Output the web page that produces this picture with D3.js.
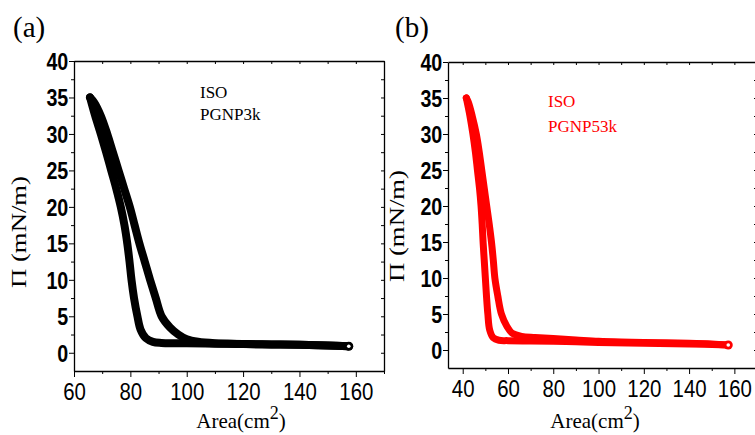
<!DOCTYPE html>
<html>
<head>
<meta charset="utf-8">
<script src="https://cdn.jsdelivr.net/npm/d3@7"></script>
<style>
  body { margin: 0; background: #fff; }
</style>
</head>
<body>
<svg id="chart" width="755" height="435"></svg>
<script>
// shared pressure ticks
const piTicks = [0, 5, 10, 15, 20, 25, 30, 35, 40];
const piMinor = [2.5, 7.5, 12.5, 17.5, 22.5, 27.5, 32.5, 37.5];

// panel (a) : PGNP3k
const areaTicksA = [60, 80, 100, 120, 140, 160];
const areaMinorA = [70, 90, 110, 130, 150, 170];
const compressA = [
  [157.5, 0.9], [150, 1.0], [140, 1.1], [130, 1.15], [120, 1.2], [110, 1.3],
  [104, 1.5], [100, 1.85], [97, 2.5], [94, 3.5], [91.1, 5], [89, 7.5],
  [87, 10], [85.1, 12.5], [83.2, 15], [81.5, 17.5], [79.8, 20], [77.8, 22.5],
  [75.8, 25], [73.8, 27.5], [71.8, 30], [69.5, 32.5], [67.2, 34.3], [65.7, 35]
];
const expandA = [
  [65.7, 35], [67.5, 32.5], [69.5, 30], [71.4, 27.5], [73.2, 25], [75, 22.5],
  [76.6, 20], [77.9, 17.5], [78.9, 15], [79.7, 12.5], [80.4, 10], [81.3, 7.5],
  [82.5, 5], [83.6, 3.2], [85.5, 2], [88, 1.5], [91, 1.35], [95, 1.3],
  [100, 1.3], [110, 1.25], [120, 1.2], [130, 1.15], [140, 1.1], [150, 1.0], [157.5, 0.9]
];
const labelsA = ["ISO", "PGNP3k"];

// panel (b) : PGNP53k
const areaTicksB = [40, 60, 80, 100, 120, 140, 160];
const areaMinorB = [50, 70, 90, 110, 130, 150];
const compressB = [
  [157.3, 0.7], [150, 0.85], [140, 0.95], [130, 1.0], [120, 1.05], [110, 1.1],
  [100, 1.2], [90, 1.4], [80, 1.6], [72, 1.75], [66, 1.9], [62, 2.3],
  [59.5, 3.3], [57.1, 5], [55.5, 7.5], [54.2, 10], [53.5, 12.5], [52.7, 15],
  [51.7, 17.5], [50.6, 20], [49.5, 22.5], [48.4, 25], [47.3, 27.5], [46, 30],
  [44.2, 32.5], [42.5, 34.4], [41.6, 35]
];
const expandB = [
  [41.6, 35], [43.2, 32.5], [44.5, 30], [45.6, 27.5], [46.5, 25], [47.4, 22.5],
  [48.1, 20], [48.6, 17.5], [49, 15], [49.5, 12.5], [50, 10], [50.5, 7.5],
  [51.1, 5], [51.9, 2.8], [53.5, 1.7], [56, 1.35], [60, 1.3], [70, 1.25],
  [80, 1.2], [90, 1.15], [100, 1.05], [120, 0.95], [140, 0.85], [157.3, 0.7]
];
const labelsB = ["ISO", "PGNP53k"];

const SERIF = '"Liberation Serif", "Times New Roman", Times, serif';
const SANS = '"Liberation Sans Narrow", "Liberation Sans", Arial, sans-serif';

const svg = d3.select('#chart');

function drawPanel(o) {
  const x = d3.scaleLinear().domain(o.xDomain).range([o.left, o.right]);
  const y = d3.scaleLinear().domain([-2.5, 40]).range([o.bottom, o.top]);
  const g = svg.append('g');

  // curves
  const line = d3.line()
    .x(d => x(d[0]))
    .y(d => y(d[1]))
    .curve(d3.curveCatmullRom);

  [o.compress, o.expand].forEach(s => {
    g.append('path')
      .attr('d', line(s))
      .attr('fill', 'none')
      .attr('stroke', o.color)
      .attr('stroke-width', o.lineWidth)
      .attr('stroke-linecap', 'round')
      .attr('stroke-linejoin', 'round');
  });

  // last measured point, hollow marker
  const end = o.compress[0];
  g.append('circle')
    .attr('cx', x(end[0])).attr('cy', y(end[1]))
    .attr('r', 4.5).attr('fill', o.color);
  g.append('circle')
    .attr('cx', x(end[0])).attr('cy', y(end[1]))
    .attr('r', 1.8).attr('fill', '#fff');

  // left axis
  g.append('g')
    .attr('transform', `translate(${o.left},0)`)
    .call(d3.axisLeft(y).tickValues(piTicks).tickSize(5).tickSizeOuter(0).tickPadding(2))
    .call(a => a.selectAll('text')
      .attr('font-family', SANS).attr('font-weight', 'bold').attr('font-size', 24)
      .attr('transform', 'scale(0.82,1)').attr('dy', '0.35em'));
  g.append('g')
    .attr('transform', `translate(${o.left},0)`)
    .call(d3.axisLeft(y).tickValues(piMinor).tickSize(3).tickFormat(''))
    .select('.domain').remove();

  // bottom axis
  g.append('g')
    .attr('transform', `translate(0,${o.bottom})`)
    .call(d3.axisBottom(x).tickValues(o.xTicks).tickSize(6).tickSizeOuter(0).tickPadding(6))
    .call(a => a.selectAll('text')
      .attr('font-family', SANS).attr('font-size', 24)
      .attr('transform', 'scale(0.85,1)'));
  g.append('g')
    .attr('transform', `translate(0,${o.bottom})`)
    .call(d3.axisBottom(x).tickValues(o.xMinor).tickSize(3).tickFormat(''))
    .select('.domain').remove();

  // top and right frame with inward ticks
  g.append('g')
    .attr('transform', `translate(0,${o.top})`)
    .call(d3.axisBottom(x).tickValues(o.xTicks.concat(o.xMinor)).tickSize(3).tickSizeOuter(0).tickFormat(''));
  g.append('g')
    .attr('transform', `translate(${o.right},0)`)
    .call(d3.axisLeft(y).tickValues(piTicks.concat(piMinor)).tickSize(3).tickSizeOuter(0).tickFormat(''));

  g.selectAll('.domain').attr('stroke', '#000').attr('stroke-width', 1.3);
  g.selectAll('.tick line').attr('stroke', '#000');

  // axis titles
  g.append('text')
    .attr('font-family', SERIF)
    .attr('transform', `translate(${o.yLabelX},${o.yLabelY}) rotate(-90)`)
    .attr('text-anchor', 'middle')
    .attr('font-size', 22)
    .attr('textLength', 112).attr('lengthAdjust', 'spacingAndGlyphs')
    .text('\u03A0 (mN/m)');

  const xl = g.append('text')
    .attr('font-family', SERIF)
    .attr('x', o.xLabelX).attr('y', 428)
    .attr('text-anchor', 'middle')
    .attr('font-size', 21);
  xl.append('tspan').text('Area(cm');
  xl.append('tspan').attr('dy', -9).attr('font-size', 18).text('2');
  xl.append('tspan').attr('dy', 9).text(')');

  // panel letter
  g.append('text')
    .attr('font-family', SERIF)
    .attr('x', o.letterX).attr('y', 37)
    .attr('font-size', 29)
    .text(o.letter);

  // legend text
  g.selectAll('.note').data(o.labels).join('text')
    .attr('font-family', SERIF)
    .attr('x', o.noteX)
    .attr('y', (d, i) => o.noteY + i * o.noteGap)
    .attr('font-size', 17)
    .attr('fill', o.color)
    .text(d => d);
}

drawPanel({
  left: 74, right: 384, top: 61, bottom: 371,
  xDomain: [60, 170], xTicks: areaTicksA, xMinor: areaMinorA,
  compress: compressA, expand: expandA, color: '#000', lineWidth: 8,
  yLabelX: 26, yLabelY: 232, xLabelX: 241,
  letter: '(a)', letterX: 13,
  labels: labelsA, noteX: 200, noteY: 98, noteGap: 22
});

drawPanel({
  left: 448, right: 757, top: 62, bottom: 368,
  xDomain: [33.5, 170], xTicks: areaTicksB, xMinor: areaMinorB,
  compress: compressB, expand: expandB, color: '#ff0000', lineWidth: 7,
  yLabelX: 404, yLabelY: 226, xLabelX: 595,
  letter: '(b)', letterX: 395,
  labels: labelsB, noteX: 548, noteY: 107, noteGap: 25
});
</script>
</body>
</html>
